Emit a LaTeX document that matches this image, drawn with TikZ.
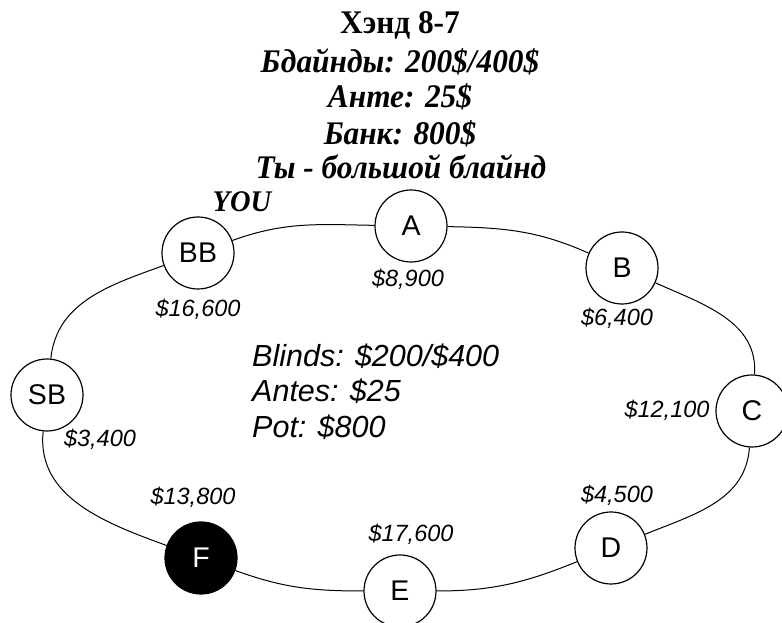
\documentclass[tikz,border=0pt]{standalone}
\usepackage{fontspec}
\setmainfont{Liberation Serif}
\newfontfamily\titlefont[FakeStretch=0.95]{Liberation Serif}
\newfontfamily\hsans{Liberation Sans}
\begin{document}
\begin{tikzpicture}[x=1pt,y=1pt,
  seat/.style={circle, draw, line width=1.2pt, minimum size=72pt, inner sep=0pt, fill=white,
    font=\hsans\fontsize{28.5}{28.5}\selectfont},
  foldseat/.style={seat, fill=black, text=white},
  stack/.style={anchor=base, inner sep=0pt, font=\hsans\itshape\fontsize{23.5}{23.5}\selectfont},
  info/.style={anchor=base west, inner sep=0pt, font=\hsans\itshape\fontsize{30.5}{30.5}\selectfont},
  titleline/.style={anchor=base, inner sep=0pt, font=\titlefont\bfseries\itshape\fontsize{33}{33}\selectfont},
  link/.style={line width=1pt}]
\useasboundingbox (0,0) rectangle (782,623);

% title
\node[titleline, font=\titlefont\bfseries\fontsize{33}{33}\selectfont] (t1) at (400,589) {Хэнд 8-7};
\node[titleline] (t2) at (400,550) {Бдайнды: 200\$/400\$};
\node[titleline] (t3) at (400,515) {Анте: 25\$};
\node[titleline] (t4) at (400,478) {Банк: 800\$};
\node[titleline] (t5) at (401,444) {Ты - большой блайнд};

% seats
\node[seat] (A)  at (411,397) {A};
\node[seat] (BB) at (198,370) {BB};
\node[seat] (B)  at (622,355) {B};
\node[seat] (C)  at (752,212) {C};
\node[seat] (D)  at (611,75)  {D};
\node[seat] (E)  at (400,32)  {E};
\node[foldseat] (F) at (201,65) {F};
\node[seat] (SB) at (47,228)  {SB};

% table outline
\draw[link] (BB) to[out=20,in=179] (A);
\draw[link] (A)  to[out=-1,in=156] (B);
\draw[link] (B)  to[out=-24,in=86] (C);
\draw[link] (C)  to[out=266,in=22] (D);
\draw[link] (D)  to[out=202,in=0] (E);
\draw[link] (E)  to[out=180,in=-20] (F);
\draw[link] (F)  to[out=160,in=264] (SB);
\draw[link] (SB) to[out=84,in=200] (BB);

% you
\node[anchor=base, inner sep=0pt, font=\titlefont\bfseries\itshape\fontsize{30}{30}\selectfont] (you) at (242,411) {YOU};

% stacks
\node[stack] (sBB) at (198,306) {\$16,600};
\node[stack] (sA)  at (408,336) {\$8,900};
\node[stack] (sB)  at (617,297) {\$6,400};
\node[stack] (sC)  at (667,205) {\$12,100};
\node[stack] (sD)  at (617,120) {\$4,500};
\node[stack] (sE)  at (411,81)  {\$17,600};
\node[stack] (sF)  at (193,118) {\$13,800};
\node[stack] (sSB) at (100,176) {\$3,400};

% info
\node[info] (i1) at (252,256) {Blinds: \$200/\$400};
\node[info] (i2) at (252,221) {Antes: \$25};
\node[info] (i3) at (252,185) {Pot: \$800};
\end{tikzpicture}
\end{document}
